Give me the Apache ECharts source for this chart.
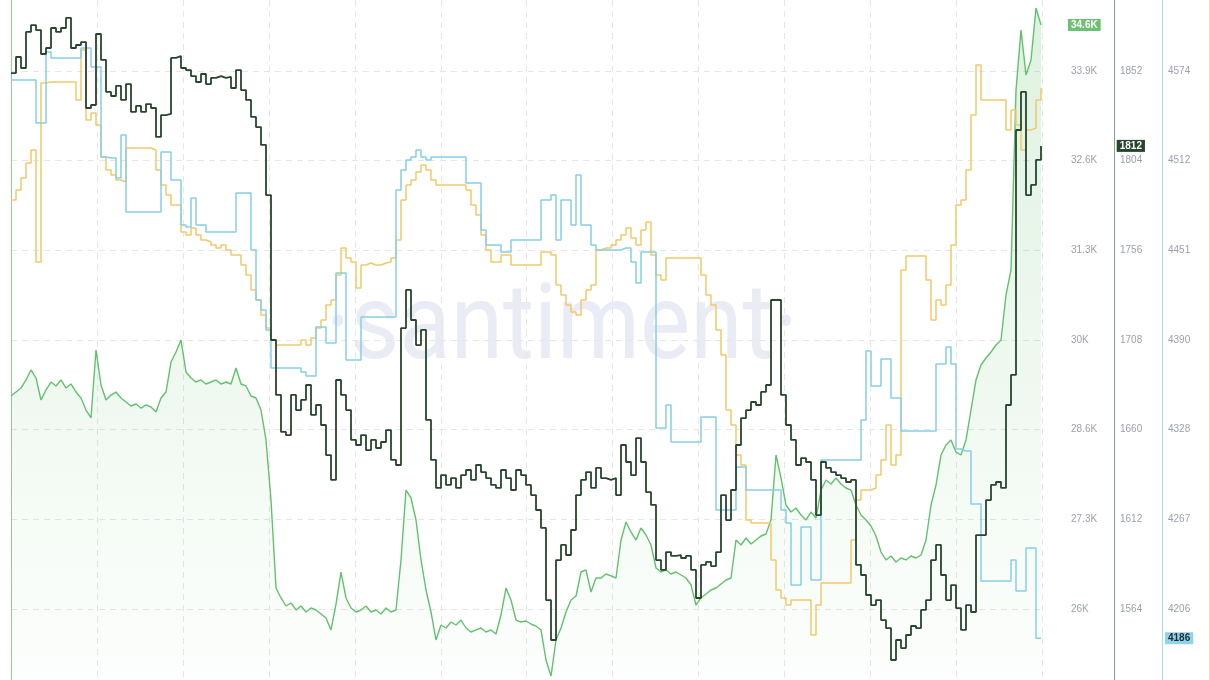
<!DOCTYPE html>
<html>
<head>
<meta charset="utf-8">
<script src="https://cdn.jsdelivr.net/npm/echarts@6/dist/echarts.min.js"></script>
<style>
html,body{margin:0;padding:0;background:#ffffff;overflow:hidden;}
#chart{width:1210px;height:680px;}
</style>
</head>
<body>
<div id="chart"></div>
<script>
// ---- data ----
const greenValues = [
29128,29186,29245,29363,29510,29392,29069,29216,29333,29275,
29363,29245,29304,29186,29098,28922,28805,29803,29289,29069,
29142,29186,29098,29040,28981,29010,28951,28996,28966,28893,
29098,29186,29627,29774,29950,29480,29392,29333,29363,29304,
29333,29363,29304,29333,29304,29539,29304,29275,29128,29098,
28922,28482,27601,26308,26162,26044,26088,25985,26044,25956,
26015,25985,25927,25868,25692,26073,26543,26162,26015,25956,
25985,26044,25956,25985,25927,26015,25956,25985,26720,27747,
27630,27307,26720,26279,25956,25545,25765,25721,25809,25765,
25838,25721,25662,25692,25721,25662,25692,25633,25912,26308,
26132,25838,25809,25824,25780,25750,25692,25251,25016,25545,
25721,25956,26132,26191,26543,26573,26250,26455,26455,26514,
26485,26455,27013,27278,27131,27013,27189,27087,26940,26602,
26543,26573,26514,26543,26499,26455,26352,26059,26162,26220,
26279,26308,26367,26426,26455,27013,26940,27043,26954,27013,
27072,27101,27307,28261,27924,27527,27424,27483,27380,27307,
27424,27336,27747,27894,27836,27924,27836,27777,27747,27527,
27380,27307,27219,27072,26837,26720,26778,26690,26749,26720,
26778,26749,26793,27013,27527,27821,28261,28408,28482,28305,
28261,28482,28922,29363,29583,29686,29774,29877,29950,30611,
30978,33621,34502,33841,34062,34825,34576
];
const darkValues = [
1850.9,1859.5,1853.6,1872.9,1876.6,1873.9,1861.1,1864.3,1875.0,1872.9,
1875.0,1880.4,1864.3,1865.9,1867.5,1832.2,1833.8,1871.8,1857.9,1840.8,
1838.6,1844.0,1836.5,1845.0,1830.1,1833.3,1830.1,1834.3,1832.2,1816.7,
1828.4,1829.0,1859.0,1860.0,1853.6,1852.5,1849.3,1846.1,1850.4,1845.0,
1848.3,1849.3,1848.3,1848.8,1842.9,1852.5,1841.8,1836.5,1827.4,1822.0,
1812.4,1785.6,1708.0,1678.6,1658.8,1657.1,1678.6,1670.5,1675.9,1683.9,
1667.9,1673.2,1662.5,1646.4,1633.1,1686.6,1678.6,1670.5,1654.5,1651.8,
1657.1,1649.1,1654.5,1650.2,1653.4,1659.8,1643.8,1641.1,1714.4,1734.8,
1718.7,1705.3,1713.4,1665.2,1643.8,1628.8,1635.7,1630.4,1634.1,1628.8,
1635.7,1638.4,1633.1,1641.1,1637.3,1634.1,1630.4,1628.8,1638.4,1634.1,
1627.7,1638.4,1635.7,1630.4,1625.0,1617.0,1607.4,1568.8,1547.4,1590.2,
1598.3,1592.9,1606.3,1625.0,1633.1,1637.3,1628.8,1639.5,1634.1,1633.1,
1634.1,1625.0,1651.8,1642.7,1635.7,1655.5,1642.7,1626.6,1619.7,1590.2,
1584.9,1594.5,1592.4,1592.9,1591.3,1592.4,1584.9,1569.9,1587.6,1589.2,
1587.0,1594.5,1625.0,1611.6,1627.7,1651.8,1666.2,1670.5,1674.8,1673.2,
1680.2,1683.9,1729.4,1729.4,1678.6,1662.5,1654.5,1641.1,1644.8,1642.7,
1633.1,1614.3,1642.7,1639.5,1637.3,1635.7,1634.1,1632.0,1633.1,1587.6,
1582.2,1571.5,1566.1,1568.8,1558.1,1553.8,1536.7,1547.4,1543.1,1550.1,
1554.9,1553.8,1563.5,1568.8,1590.2,1598.3,1582.2,1568.8,1576.8,1564.5,
1552.8,1566.1,1562.4,1603.6,1603.6,1622.3,1630.4,1632.0,1628.8,1673.2,
1689.3,1820.4,1840.8,1785.6,1791.0,1804.4,1811.9
];
const cyanValues = [
4567.8,4567.8,4567.8,4567.8,4567.8,4538.4,4538.4,4587.0,4582.9,4582.9,
4582.9,4582.9,4582.9,4582.9,4589.7,4589.7,4576.7,4576.7,4515.2,4514.5,
4514.5,4500.8,4530.2,4477.6,4477.6,4477.6,4477.6,4477.6,4477.6,4477.6,
4518.6,4518.6,4499.4,4499.4,4468.7,4467.3,4487.1,4468.7,4468.7,4463.9,
4463.9,4463.9,4463.9,4463.9,4463.9,4490.5,4490.5,4490.5,4451.6,4417.4,
4410.5,4396.8,4370.8,4370.8,4370.8,4370.8,4370.8,4370.8,4368.1,4365.4,
4365.4,4398.9,4398.9,4387.9,4387.9,4435.8,4435.8,4376.3,4376.3,4376.3,
4405.7,4405.7,4405.7,4405.7,4405.7,4405.7,4405.7,4492.6,4506.3,4513.1,
4515.2,4520.0,4515.2,4513.1,4515.2,4515.2,4515.2,4515.2,4515.2,4515.2,
4515.2,4497.4,4497.4,4497.4,4465.2,4455.0,4455.0,4455.0,4450.2,4450.2,
4458.4,4458.4,4458.4,4458.4,4458.4,4458.4,4485.8,4485.8,4489.2,4458.4,
4485.8,4485.8,4468.7,4502.9,4468.7,4468.7,4455.0,4451.6,4451.6,4451.6,
4451.6,4451.6,4452.9,4452.9,4443.4,4429.0,4450.2,4450.2,4450.2,4329.8,
4329.8,4345.5,4320.2,4320.2,4320.2,4320.2,4320.2,4320.2,4337.3,4337.3,
4337.3,4273.7,4273.7,4273.7,4273.7,4303.1,4303.1,4287.4,4287.4,4287.4,
4287.4,4287.4,4287.4,4287.4,4273.7,4264.8,4222.4,4222.4,4262.1,4262.1,
4225.8,4225.8,4307.9,4307.9,4307.9,4307.9,4307.9,4307.9,4307.9,4307.9,
4335.3,4382.5,4358.5,4358.5,4377.0,4377.0,4350.3,4350.3,4327.8,4327.8,
4327.8,4327.8,4327.8,4327.8,4327.8,4373.6,4373.6,4385.2,4373.6,4315.4,
4314.1,4314.1,4277.8,4277.8,4225.2,4225.2,4225.2,4225.2,4225.2,4225.2,
4239.5,4218.3,4218.3,4247.7,4247.7,4186,null
];
const yellowValues = [
90.9,91.9,93.1,94.6,95.9,84.7,102.6,102.7,102.7,102.7,
102.7,102.7,102.7,100.9,105.9,98.9,99.6,98.4,95.2,93.9,
93.4,92.9,92.7,96.1,96.1,96.1,96.1,96.1,95.9,93.9,
92.4,91.4,90.4,90.4,87.7,87.4,88.1,87.4,86.9,86.7,
86.4,86.1,86.4,85.9,85.4,85.4,84.4,83.4,81.9,80.9,
79.4,78.1,76.9,76.4,76.4,76.4,76.4,76.4,76.9,76.4,
77.1,78.1,78.9,80.4,80.9,83.4,86.1,85.1,84.7,82.1,
84.4,84.6,84.4,84.4,84.6,84.7,85.1,86.9,90.9,92.4,
92.9,93.7,94.4,93.9,92.9,92.4,92.4,92.4,92.4,92.4,
92.4,91.9,90.4,89.4,87.4,85.9,84.7,84.7,85.4,85.4,
84.4,84.4,84.4,84.4,84.4,84.4,85.7,85.7,85.4,82.4,
81.4,80.4,79.7,79.4,80.9,81.9,82.4,85.9,86.1,86.1,
86.4,86.9,87.4,88.1,87.1,86.4,87.9,88.7,85.4,83.4,
82.9,85.1,85.1,85.1,85.1,85.1,85.1,85.1,83.4,81.4,
80.4,77.9,75.4,69.9,68.4,65.4,64.4,58.9,58.6,58.6,
58.6,58.6,54.9,51.9,51.1,50.4,50.9,50.9,50.9,50.9,
47.4,50.4,52.6,52.6,52.6,52.6,52.6,52.6,56.9,60.9,
61.9,61.9,62.1,63.4,64.9,68.4,64.4,65.4,83.9,85.3,
85.3,85.3,85.3,82.9,78.9,80.9,80.4,82.4,86.4,90.4,
90.9,93.9,99.4,104.4,100.9,100.9,100.9,100.9,100.9,97.9,
99.9,98.4,95.9,97.9,98.1,100.9,102.1
];

// axis ticks / labels
const greenTickValues = [26000, 27316.67, 28633.33, 29950, 31266.67, 32583.33, 33900];
const greenTickLabels = ['26K','27.3K','28.6K','30K','31.3K','32.6K','33.9K'];
const darkTickValues  = [1564, 1612, 1660, 1708, 1756, 1804, 1852];
const darkTickLabels  = ['1564','1612','1660','1708','1756','1804','1852'];
const cyanTickValues  = [4206, 4267.33, 4328.67, 4390, 4451.33, 4512.67, 4574];
const cyanTickLabels  = ['4206','4267','4328','4390','4451','4512','4574'];
const greenRange  = [24957.4, 34942.6];
const darkRange   = [1526.0, 1890.0];
const cyanRange   = [4157.43, 4622.57];
const yellowRange = [42.9, 110.9];

// ---- chart ----
const pairs = arr => arr.map((v, i) => [i, v]);
const labelFrom = (values, labels) => v => {
  let best = 0;
  for (let k = 1; k < values.length; k++) if (Math.abs(values[k] - v) < Math.abs(values[best] - v)) best = k;
  return labels[best];
};
const last = arr => { for (let i = arr.length - 1; i >= 0; i--) if (arr[i] != null) return arr[i]; };

const labelStyle = {color: '#9ba1ad', fontSize: 10, fontFamily: 'Liberation Sans, Arial, sans-serif', margin: 6};

function badge(value, text, bg, fg, dist) {
  return {
    silent: true, symbol: 'none', animation: false,
    lineStyle: {width: 0, color: 'rgba(0,0,0,0)'},
    label: {
      show: true, position: 'end', distance: dist, opacity: 1,
      formatter: text, backgroundColor: bg, color: fg,
      padding: [1, 3, 1, 3], fontSize: 10, fontWeight: 'bold',
      fontFamily: 'Liberation Sans, Arial, sans-serif'
    },
    emphasis: {disabled: true},
    data: [{yAxis: value}]
  };
}

function yAxisDef(range, offset, lineColor, tickValues, tickLabels, split) {
  const def = {
    type: 'value', position: 'right', offset: offset,
    min: range[0], max: range[1],
    axisLine: {show: true, lineStyle: {color: lineColor, width: 1}},
    axisTick: {show: false},
    axisLabel: {show: false},
    splitLine: {show: false}
  };
  if (tickValues) {
    def.axisTick = {show: false, customValues: tickValues};
    def.axisLabel = Object.assign({customValues: tickValues, formatter: labelFrom(tickValues, tickLabels)}, labelStyle);
  }
  if (split) def.splitLine = {show: true, lineStyle: {color: '#e6e6e6', type: [6, 5], width: 1}};
  return def;
}

const chart = echarts.init(document.getElementById('chart'), null, {renderer: 'canvas'});
chart.setOption({
  animation: false,
  backgroundColor: '#ffffff',
  graphic: [{
    type: 'text', z: -10, silent: true,
    x: 562, y: 331, scaleX: 0.893,
    style: {
      text: '\u00B7santiment\u00B7',
      font: '400 106px Roboto, sans-serif',
      fill: '#eaecf5',
      textAlign: 'center', textVerticalAlign: 'middle'
    }
  }],
  grid: {left: 11, right: 167.6, top: 0, bottom: 0, containLabel: false},
  xAxis: {
    type: 'value', min: 0, max: 206.28, interval: 17.19,
    axisLine: {show: false}, axisTick: {show: false}, axisLabel: {show: false},
    splitLine: {show: true, lineStyle: {color: '#e6e6e6', type: [6, 5], width: 1}}
  },
  yAxis: [
    yAxisDef(greenRange, 22.6, '#8fcf95', greenTickValues, greenTickLabels, true),
    yAxisDef(darkRange, 71.6, '#86a38b', darkTickValues, darkTickLabels, false),
    yAxisDef(cyanRange, 119.6, '#a6dbea', cyanTickValues, cyanTickLabels, false),
    yAxisDef(yellowRange, 167, '#f4dfa3', null, null, false)
  ],
  series: [
    {
      name: 'green', type: 'line', yAxisIndex: 0, data: pairs(greenValues),
      showSymbol: false, z: 2,
      lineStyle: {color: '#62c16d', width: 1.4},
      itemStyle: {color: '#62c16d'},
      areaStyle: {
        origin: 'start',
        color: new echarts.graphic.LinearGradient(0, 0, 0, 1, [
          {offset: 0, color: 'rgba(98,193,109,0.30)'},
          {offset: 1, color: 'rgba(98,193,109,0.02)'}
        ])
      },
      markLine: badge(last(greenValues), (last(greenValues) / 1000).toFixed(1) + 'K', '#6cc272', '#ffffff', 25.6)
    },
    {
      name: 'yellow', type: 'line', yAxisIndex: 3, data: pairs(yellowValues),
      showSymbol: false, step: 'end', z: 3,
      lineStyle: {color: '#f1c96b', width: 1.5},
      itemStyle: {color: '#f1c96b'}
    },
    {
      name: 'cyan', type: 'line', yAxisIndex: 2, data: pairs(cyanValues),
      showSymbol: false, step: 'end', z: 4, connectNulls: false,
      lineStyle: {color: '#86d0e4', width: 1.5},
      itemStyle: {color: '#86d0e4'},
      markLine: badge(last(cyanValues), String(Math.round(last(cyanValues))), '#8fd4e8', '#1d2b36', 122.6)
    },
    {
      name: 'dark', type: 'line', yAxisIndex: 1, data: pairs(darkValues),
      showSymbol: false, step: 'end', z: 5,
      lineStyle: {color: '#27462d', width: 1.8},
      itemStyle: {color: '#27462d'},
      markLine: badge(last(darkValues), String(Math.round(last(darkValues))), '#27462d', '#ffffff', 74.3)
    }
  ]
});
</script>
</body>
</html>
